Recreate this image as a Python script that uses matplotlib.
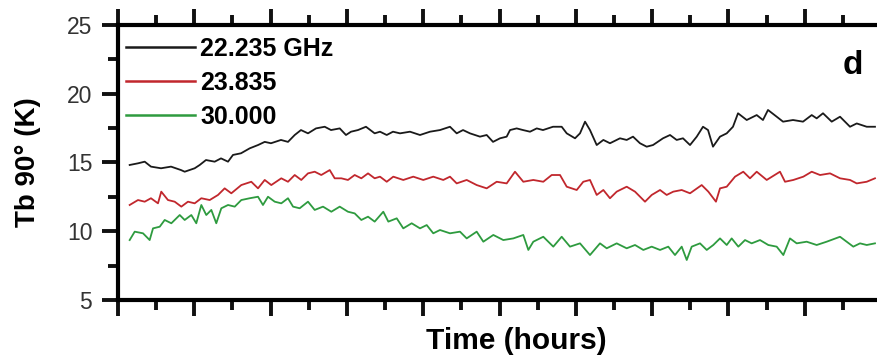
import matplotlib
matplotlib.use("Agg")
import matplotlib.pyplot as plt
from matplotlib.ticker import MultipleLocator, NullFormatter

plt.rcParams["font.family"] = ["Liberation Sans", "DejaVu Sans"]

# 22.235 GHz channel
t_k = [0.153, 0.262, 0.350, 0.432, 0.564, 0.695, 0.826, 0.874, 1.005, 1.071,
       1.153, 1.267, 1.350, 1.442, 1.507, 1.612, 1.726, 1.835, 1.923, 2.005,
       2.136, 2.228, 2.316, 2.398, 2.490, 2.595, 2.709, 2.792, 2.906, 2.988,
       3.054, 3.145, 3.250, 3.364, 3.434, 3.522, 3.604, 3.696, 3.827, 3.958,
       4.089, 4.220, 4.351, 4.439, 4.522, 4.613, 4.744, 4.832, 4.915, 5.007,
       5.094, 5.138, 5.225, 5.308, 5.400, 5.488, 5.570, 5.701, 5.815, 5.881,
       5.990, 6.055, 6.121, 6.186, 6.274, 6.361, 6.448, 6.579, 6.667, 6.750,
       6.841, 6.929, 7.012, 7.143, 7.235, 7.322, 7.405, 7.497, 7.585, 7.667,
       7.733, 7.798, 7.890, 7.978, 8.060, 8.126, 8.240, 8.371, 8.453, 8.519,
       8.633, 8.716, 8.847, 8.978, 9.092, 9.157, 9.240, 9.354, 9.463, 9.594,
       9.682, 9.813, 9.921]
tb_k = [14.82, 14.94, 15.06, 14.70, 14.58, 14.70, 14.45, 14.33, 14.58, 14.82,
        15.18, 15.06, 15.30, 15.06, 15.55, 15.67, 16.03, 16.27, 16.50, 16.40,
        16.64, 16.50, 17.00, 17.36, 17.12, 17.48, 17.60, 17.36, 17.48, 17.00,
        17.24, 17.36, 17.60, 17.12, 17.24, 17.00, 17.24, 17.12, 17.24, 17.00,
        17.24, 17.36, 17.60, 17.12, 17.36, 17.12, 16.88, 17.00, 16.50, 16.76,
        16.88, 17.36, 17.48, 17.36, 17.24, 17.48, 17.36, 17.60, 17.60, 17.12,
        16.76, 17.12, 17.97, 17.36, 16.27, 16.64, 16.40, 16.76, 16.64, 16.88,
        16.40, 16.15, 16.27, 16.76, 17.00, 16.64, 16.76, 16.27, 16.88, 17.60,
        17.36, 16.15, 16.88, 17.12, 17.60, 18.58, 18.09, 18.45, 18.09, 18.82,
        18.33, 17.97, 18.09, 17.97, 18.45, 18.21, 18.58, 17.97, 18.33, 17.60,
        17.84, 17.60, 17.60]

# 23.835 GHz channel
t_r = [0.153, 0.262, 0.350, 0.432, 0.524, 0.567, 0.655, 0.743, 0.830, 0.917,
       1.005, 1.092, 1.202, 1.311, 1.398, 1.485, 1.616, 1.747, 1.835, 1.923,
       2.009, 2.140, 2.228, 2.316, 2.402, 2.490, 2.578, 2.664, 2.775, 2.840,
       2.927, 3.014, 3.102, 3.189, 3.277, 3.364, 3.434, 3.522, 3.608, 3.739,
       3.870, 4.001, 4.132, 4.263, 4.351, 4.439, 4.570, 4.701, 4.832, 4.963,
       5.094, 5.203, 5.312, 5.443, 5.574, 5.684, 5.793, 5.881, 6.012, 6.098,
       6.186, 6.274, 6.361, 6.448, 6.536, 6.579, 6.667, 6.776, 6.907, 6.995,
       7.104, 7.191, 7.278, 7.388, 7.497, 7.650, 7.737, 7.837, 7.890, 7.978,
       8.087, 8.195, 8.283, 8.371, 8.502, 8.676, 8.742, 8.851, 8.982, 9.092,
       9.201, 9.332, 9.463, 9.594, 9.682, 9.813, 9.921]
tb_r = [11.91, 12.27, 12.15, 12.40, 12.03, 12.88, 12.27, 12.15, 11.79, 12.15,
        12.03, 12.40, 12.27, 12.64, 13.12, 12.76, 13.36, 13.60, 13.12, 13.73,
        13.36, 13.85, 13.60, 14.09, 13.73, 14.21, 14.33, 14.09, 14.45, 13.85,
        13.85, 13.73, 14.09, 13.85, 14.21, 13.85, 13.97, 13.60, 13.97, 13.73,
        13.97, 13.73, 13.97, 13.73, 13.97, 13.48, 13.73, 13.36, 13.12, 13.60,
        13.48, 14.33, 13.60, 13.73, 13.60, 14.09, 14.09, 13.24, 13.00, 13.60,
        13.73, 12.64, 13.00, 12.40, 12.88, 13.00, 13.24, 12.88, 12.15, 12.64,
        13.00, 12.64, 12.88, 13.00, 12.76, 13.36, 12.88, 12.15, 13.12, 13.24,
        13.97, 14.33, 13.85, 14.33, 13.73, 14.33, 13.60, 13.73, 13.97, 14.33,
        14.09, 14.21, 13.85, 13.73, 13.48, 13.60, 13.85]

# 30.000 GHz channel
t_g = [0.153, 0.219, 0.328, 0.415, 0.459, 0.547, 0.612, 0.699, 0.809, 0.874,
       0.961, 1.026, 1.092, 1.157, 1.223, 1.288, 1.354, 1.442, 1.530, 1.616,
       1.726, 1.835, 1.900, 1.966, 2.054, 2.140, 2.228, 2.294, 2.381, 2.490,
       2.578, 2.687, 2.796, 2.906, 3.014, 3.102, 3.189, 3.277, 3.364, 3.477,
       3.543, 3.653, 3.739, 3.849, 3.958, 4.046, 4.132, 4.220, 4.351, 4.482,
       4.570, 4.701, 4.788, 4.919, 5.050, 5.181, 5.312, 5.378, 5.443, 5.574,
       5.705, 5.815, 5.924, 6.055, 6.186, 6.317, 6.405, 6.536, 6.579, 6.667,
       6.776, 6.885, 6.995, 7.104, 7.212, 7.300, 7.388, 7.454, 7.519, 7.628,
       7.716, 7.802, 7.890, 7.978, 8.043, 8.130, 8.218, 8.305, 8.414, 8.523,
       8.633, 8.720, 8.807, 8.895, 9.026, 9.157, 9.288, 9.463, 9.550, 9.637,
       9.725, 9.813, 9.921]
tb_g = [9.36, 9.97, 9.85, 9.36, 10.21, 10.33, 10.82, 10.58, 11.18, 10.82,
        11.18, 10.58, 11.91, 11.18, 11.55, 10.58, 11.67, 11.91, 11.79, 12.27,
        12.40, 12.51, 11.91, 12.51, 12.15, 12.03, 12.40, 11.79, 11.67, 12.15,
        11.55, 11.79, 11.42, 11.79, 11.42, 11.30, 10.82, 11.06, 10.70, 11.42,
        10.70, 10.94, 10.21, 10.58, 10.21, 10.45, 9.85, 10.09, 9.85, 9.97,
        9.48, 9.97, 9.24, 9.73, 9.36, 9.48, 9.73, 8.64, 9.24, 9.60,
        8.88, 9.60, 8.88, 9.12, 8.27, 9.12, 8.76, 9.12, 9.00, 8.76,
        9.00, 8.64, 8.88, 8.64, 8.88, 8.27, 8.88, 7.91, 8.88, 9.12,
        8.64, 9.00, 9.48, 9.00, 9.48, 8.88, 9.36, 9.12, 9.36, 9.00,
        8.88, 8.27, 9.48, 9.12, 9.24, 9.00, 9.24, 9.60, 9.24, 8.88,
        9.12, 9.00, 9.12]

labels = ["22.235 GHz", "23.835", "30.000"]
colors = ["#1a1a1a", "#c1272d", "#2e9b3f"]

fig = plt.figure(figsize=(8.77, 3.61), dpi=100)
ax = fig.add_axes([118 / 877, 1 - 300 / 361, 759 / 877, 275 / 361])

for t, tb, lab, c in zip([t_k, t_r, t_g], [tb_k, tb_r, tb_g], labels, colors):
    ax.plot(t, tb, color=c, linewidth=1.3, label=lab)

ax.set_xlim(0, 759 / 76.3)
ax.set_ylim(5, 25)

ax.xaxis.set_major_locator(MultipleLocator(1))
ax.xaxis.set_minor_locator(MultipleLocator(0.5))
ax.xaxis.set_major_formatter(NullFormatter())
ax.yaxis.set_major_locator(MultipleLocator(5))
ax.yaxis.set_minor_locator(MultipleLocator(2.5))

ax.spines["right"].set_visible(False)
for s in ("left", "bottom", "top"):
    ax.spines[s].set_linewidth(3)

ax.tick_params(axis="x", which="both", direction="out", top=True, bottom=True,
               width=2.8, color="#111")
ax.tick_params(axis="x", which="major", length=11.5)
ax.tick_params(axis="x", which="minor", length=7)
ax.tick_params(axis="y", which="both", direction="out", left=True, right=False,
               width=2.8, color="#111")
ax.tick_params(axis="y", which="major", length=11.5, labelsize=16.5,
               labelcolor="#333", pad=7)
ax.tick_params(axis="y", which="minor", length=7)

ax.set_xlabel("Time (hours)", fontsize=21.5, fontweight="bold")
ax.xaxis.set_label_coords(0.525, -0.148)
ax.xaxis.label.set_va("center")
ax.set_ylabel("Tb 90° (K)", fontsize=20, fontweight="bold")
ax.yaxis.set_label_coords(-0.118, 0.5)
ax.yaxis.label.set_va("center")

ax.text(0.968, 0.822, "d", transform=ax.transAxes, fontsize=24,
        fontweight="bold", ha="center", va="baseline")

leg = ax.legend(loc="upper left", bbox_to_anchor=(8 / 759, 0.958), frameon=False,
                prop={"size": 18, "weight": "bold"}, handlelength=2.75,
                handletextpad=0.22, labelspacing=0.4, borderpad=0, borderaxespad=0)
for line in leg.get_lines():
    line.set_linewidth(1.8)

fig.savefig("out.png", dpi=100)
